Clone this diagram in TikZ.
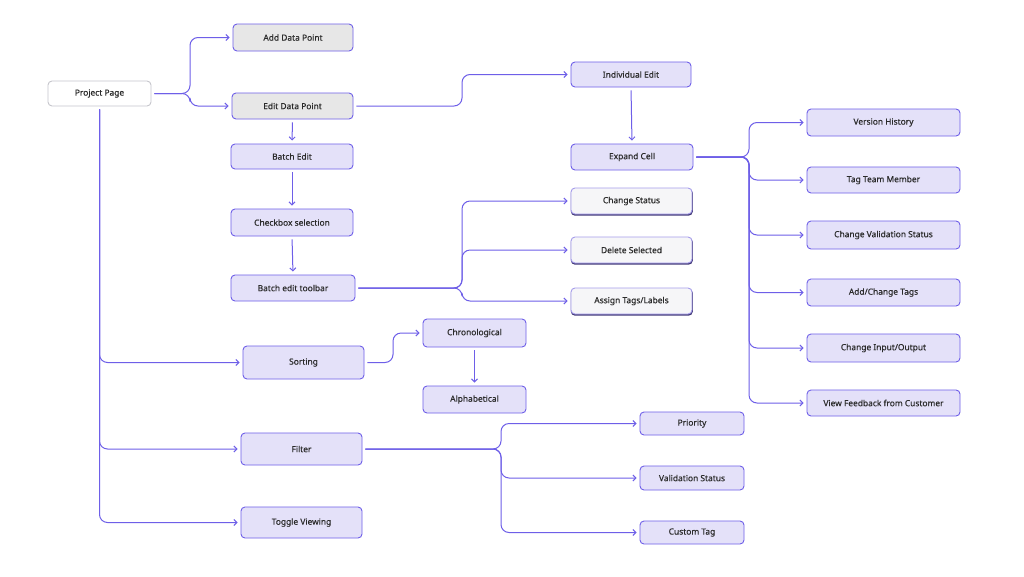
\documentclass[tikz,border=0pt]{standalone}
\usepackage{fontspec}
\setmainfont{Noto Sans}[FakeBold=0.5]
\usetikzlibrary{arrows.meta,backgrounds}
\definecolor{stroke}{HTML}{6E5FE8}
\definecolor{lav}{HTML}{E4E1F9}
\definecolor{grayfill}{HTML}{E7E7E7}
\definecolor{lightfill}{HTML}{F6F6F8}
\definecolor{lightedge}{HTML}{A59CEB}
\definecolor{shadowc}{HTML}{433A78}
\definecolor{txt}{HTML}{2B2B2B}
\definecolor{ppedge}{HTML}{C6C6CC}
\tikzset{
  box/.style={rounded corners=4pt, draw=stroke, fill=lav, line width=0.9pt,
    inner sep=0pt, font=\fontsize{8.4}{10}\selectfont, text=txt},
  graybox/.style={box, fill=grayfill},
  lightbox/.style={box, fill=lightfill, draw=lightedge},
  rootbox/.style={box, fill=white, draw=ppedge},
  sz/.style n args={2}{minimum width=#1pt, minimum height=#2pt},
  conn/.style={draw=stroke, line width=1pt, rounded corners=8pt,
    shorten <=3pt, shorten >=3pt, -{Straight Barb[length=3pt,width=6pt,line width=1pt]}},
  shadowbox/.style={fill=shadowc, rounded corners=4pt}
}
\begin{document}
\begin{tikzpicture}[x=1pt,y=-1pt]
\begin{scope}[on background layer]
\fill[white] (0,0) rectangle (1024,576);
\end{scope}
\useasboundingbox (0,0) rectangle (1024,576);

\node[rootbox, sz={103}{25}] (pp) at (99.5,93.5) {Project Page};
\node[graybox, sz={120}{27}] (add) at (293,37.5) {Add Data Point};
\node[graybox, sz={121}{26}] (edit) at (292.5,106) {Edit Data Point};
\node[box, sz={122}{25}] (batch) at (292,156.5) {Batch Edit};
\node[box, sz={122}{27}] (check) at (292,222.5) {Checkbox selection};
\node[box, sz={124}{26}] (toolbar) at (293,288) {Batch edit toolbar};

\node[box, sz={120}{25}] (indiv) at (631,74.5) {Individual Edit};
\node[box, sz={122}{26}] (expand) at (632,157) {Expand Cell};
\node[lightbox, sz={121}{26}] (status) at (631.5,201) {Change Status};
\node[lightbox, sz={121}{26}] (delete) at (631.5,250) {Delete Selected};
\node[lightbox, sz={121}{26}] (assign) at (631.5,301) {Assign Tags/Labels};

\node[box, sz={153}{27}] (vh) at (883.5,122.5) {Version History};
\node[box, sz={153}{26}] (ttm) at (883.5,180) {Tag Team Member};
\node[box, sz={153}{28}] (cvs) at (883.5,235) {Change Validation Status};
\node[box, sz={153}{27}] (act) at (883.5,292.5) {Add/Change Tags};
\node[box, sz={153}{28}] (cio) at (883.5,348) {Change Input/Output};
\node[box, sz={153}{26}] (vfc) at (883.5,403) {View Feedback from Customer};

\node[box, sz={121}{33}] (sort) at (303.5,362.5) {Sorting};
\node[box, sz={103}{28}] (chrono) at (474.5,333) {Chronological};
\node[box, sz={103}{27}] (alpha) at (474.5,399.5) {Alphabetical};
\node[box, sz={121}{32}] (filter) at (301.5,449) {Filter};
\node[box, sz={121}{31}] (toggle) at (301.5,522.5) {Toggle Viewing};

\node[box, sz={104}{23}] (prio) at (692,423.5) {Priority};
\node[box, sz={104}{24}] (vs) at (692,478) {Validation Status};
\node[box, sz={104}{23}] (ct) at (692,532.5) {Custom Tag};

\begin{scope}[on background layer]
\foreach \n in {status,delete,assign}{
  \fill[shadowbox] ([xshift=0.3pt,yshift=-1.2pt]\n.south west) rectangle ([xshift=0.3pt,yshift=-1.2pt]\n.north east);
}
\end{scope}

% connectors
\draw[conn] (pp.east) -- (190,93.5) |- (add.west);
\draw[conn] (pp.east) -- (190,93.5) |- (edit.west);
\draw[conn] (edit.east) -- (462,106) |- (indiv.west);
\draw[conn] (edit.south) -- (batch.north);
\draw[conn] (batch.south) -- (check.north);
\draw[conn] (check.south) -- (toolbar.north);
\draw[conn] (toolbar.east) -- (462,288) |- (status.west);
\draw[conn] (toolbar.east) -- (462,288) |- (delete.west);
\draw[conn] (toolbar.east) -- (462,288) |- (assign.west);
\draw[conn] (indiv.south) -- (expand.north);
\foreach \t in {vh,ttm,cvs,act,cio,vfc}{
  \draw[conn] (expand.east) -- (749,157) |- (\t.west);
}
\draw[conn] (pp.south) |- (sort.west);
\draw[conn] (pp.south) |- (filter.west);
\draw[conn] (pp.south) |- (toggle.west);
\draw[conn] (sort.east) -- (393,362.5) |- (chrono.west);
\draw[conn] (chrono.south) -- (alpha.north);
\draw[conn] (filter.east) -- (501,449) |- (prio.west);
\draw[conn] (filter.east) -- (501,449) |- (vs.west);
\draw[conn] (filter.east) -- (501,449) |- (ct.west);
\end{tikzpicture}
\end{document}
